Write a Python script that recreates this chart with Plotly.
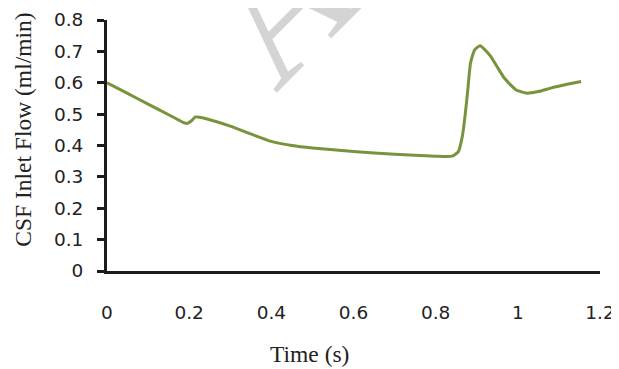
import plotly.graph_objects as go

# Data
time_s = [0, 0.05, 0.10, 0.15, 0.185, 0.195, 0.205, 0.215, 0.225, 0.25, 0.30, 0.35,
          0.40, 0.45, 0.50, 0.60, 0.70, 0.80, 0.84, 0.855, 0.865, 0.872, 0.878,
          0.885, 0.895, 0.908, 0.92, 0.934, 0.95, 0.967, 0.995, 1.02, 1.05, 1.08,
          1.12, 1.154]
csf_flow = [0.600, 0.566, 0.532, 0.498, 0.474, 0.470, 0.478, 0.491, 0.490, 0.482,
            0.462, 0.437, 0.413, 0.400, 0.392, 0.381, 0.372, 0.366, 0.366, 0.380,
            0.430, 0.500, 0.575, 0.664, 0.705, 0.718, 0.705, 0.684, 0.650, 0.615,
            0.578, 0.567, 0.572, 0.583, 0.595, 0.604]

x_ticks = [0, 0.2, 0.4, 0.6, 0.8, 1.0, 1.2]
x_tick_labels = ["0", "0.2", "0.4", "0.6", "0.8", "1", "1.2"]
y_ticks = [0, 0.1, 0.2, 0.3, 0.4, 0.5, 0.6, 0.7, 0.8]
y_tick_labels = ["0", "0.1", "0.2", "0.3", "0.4", "0.5", "0.6", "0.7", "0.8"]

x_title = "Time (s)"
y_title = "CSF Inlet Flow (ml/min)"

fig = go.Figure()
fig.add_trace(go.Scatter(
    x=time_s, y=csf_flow, mode="lines",
    line=dict(color="#77933C", width=3, shape="spline", smoothing=0.5),
    showlegend=False, hoverinfo="skip",
))

axis_color = "#1c1c1c"
tick_font = dict(family="DejaVu Sans", size=18.5, color="#222222")

fig.update_xaxes(
    range=[0, 1.2], tickvals=x_ticks, ticktext=x_tick_labels,
    showline=True, linewidth=3, linecolor=axis_color,
    showgrid=False, zeroline=False, ticks="", automargin=False,
    tickfont=tick_font, ticklabelstandoff=23,
)
fig.update_yaxes(
    range=[0, 0.8], tickvals=y_ticks, ticktext=y_tick_labels,
    showline=True, linewidth=3, linecolor=axis_color,
    showgrid=False, zeroline=False, ticks="outside", ticklen=7,
    tickwidth=3, tickcolor=axis_color, automargin=False,
    tickfont=tick_font, ticklabelstandoff=10,
)

title_font = dict(family="Liberation Serif", size=23.5, color="#222222")

# the page body has an 8px margin, so the figure is sized to fit the window
fig.update_layout(
    width=611, height=361,
    margin=dict(l=99, r=19, t=12, b=97.5),
    paper_bgcolor="white", plot_bgcolor="white",
    annotations=[
        # watermark
        dict(text="A", xref="paper", yref="paper", x=0.348, y=1.056,
             showarrow=False, textangle=-45,
             font=dict(family="Liberation Serif", size=180, color="#d4d4d4"),
             xanchor="center", yanchor="middle"),
        dict(text=x_title, xref="paper", yref="paper", x=(309 - 107) / 493,
             y=-(355 - 271.5) / 251.5, showarrow=False, font=title_font,
             xanchor="center", yanchor="middle"),
        dict(text=y_title, xref="paper", yref="paper", x=-(107 - 23) / 493,
             y=(271.5 - 130) / 251.5, showarrow=False, font=title_font,
             textangle=-90, xanchor="center", yanchor="middle"),
    ],
)

fig.write_html("out.html")
